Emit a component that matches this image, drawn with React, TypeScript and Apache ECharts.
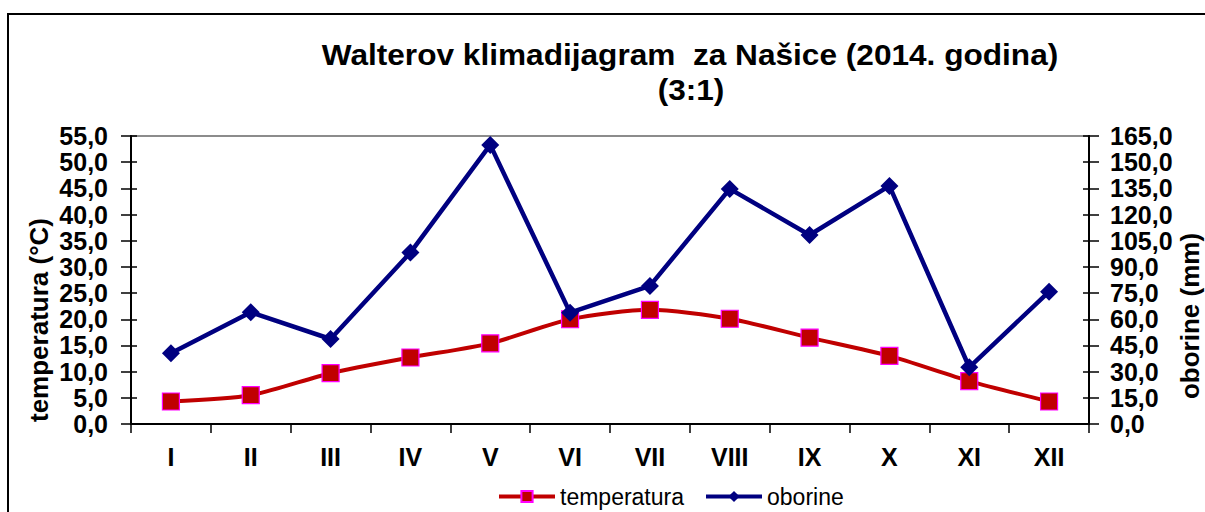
import React, { useEffect, useRef } from "react";
import * as echarts from "echarts";

const months = ["I", "II", "III", "IV", "V", "VI", "VII", "VIII", "IX", "X", "XI", "XII"];
const temperature = [4.3, 5.5, 9.7, 12.7, 15.4, 20.0, 21.8, 20.1, 16.5, 13.0, 8.2, 4.3];
const precipitation = [40.5, 64.0, 48.7, 98.2, 159.9, 63.8, 79.1, 134.7, 108.3, 136.4, 32.5, 75.8];
const titleLines = ["Walterov klimadijagram  za Našice (2014. godina)", "(3:1)"];
const seriesNames = ["temperatura", "oborine"];
const axisNames = ["temperatura (°C)", "oborine (mm)"];

const FONT = 'Arial, "Liberation Sans", sans-serif';
const fmt = (v: number) => v.toFixed(1).replace(".", ",");

export default function App() {
  const ref = useRef<HTMLDivElement>(null);
  useEffect(() => {
    if (!ref.current) return;
    const chart = echarts.init(ref.current, undefined, { renderer: "svg" });
    const labelStyle = { fontFamily: FONT, fontSize: 25, fontWeight: "bold" as const, color: "#000" };
    const baseY = (min: number, max: number, interval: number, position: "left" | "right") => ({
      type: "value" as const,
      position,
      min,
      max,
      interval,
      splitLine: { show: false },
    });
    chart.setOption({
      animation: false,
      backgroundColor: "#fff",
      grid: { left: 131, right: 116, top: 136, bottom: 88, show: true, borderColor: "#8c8c8c", borderWidth: 2 },
      legend: {
        left: 492,
        top: 480,
        itemWidth: 56,
        itemHeight: 14,
        itemGap: 20,
        textStyle: { fontFamily: FONT, fontSize: 23, color: "#000" },
        data: [
          { name: seriesNames[0], lineStyle: { width: 4 } },
          { name: seriesNames[1], lineStyle: { width: 4 } },
        ],
      },
      xAxis: {
        type: "category",
        data: months,
        boundaryGap: true,
        axisLine: { lineStyle: { color: "#000", width: 2 } },
        axisTick: { show: true, inside: false, length: 9, lineStyle: { color: "#000", width: 1.5 } },
        axisLabel: { ...labelStyle, margin: 20 },
      },
      yAxis: [
        {
          ...baseY(0, 55, 5, "left"),
          axisLine: { show: true, lineStyle: { color: "#000", width: 2 } },
          axisTick: { show: true, length: 10, lineStyle: { color: "#000", width: 1.5 } },
          axisLabel: { ...labelStyle, margin: 23, formatter: fmt, lineHeight: 20 },
        },
        {
          ...baseY(0, 165, 15, "right"),
          axisLine: { show: true, lineStyle: { color: "#000", width: 2 } },
          axisTick: { show: true, length: 10, lineStyle: { color: "#000", width: 1.5 } },
          axisLabel: { ...labelStyle, margin: 21, formatter: fmt, lineHeight: 20 },
        },
        {
          ...baseY(0, 55, 5, "left"),
          axisLine: { show: false },
          axisTick: { show: true, inside: true, length: 6, lineStyle: { color: "#000", width: 1.5 } },
          axisLabel: { show: false },
        },
        {
          ...baseY(0, 165, 15, "right"),
          axisLine: { show: false },
          axisTick: { show: true, inside: true, length: 6, lineStyle: { color: "#000", width: 1.5 } },
          axisLabel: { show: false },
        },
      ],
      graphic: [
        {
          type: "rect",
          shape: { x: 8, y: 14, width: 1230, height: 540 },
          style: { fill: "none", stroke: "#000", lineWidth: 2 },
          silent: true,
        },
        {
          type: "text",
          x: 690,
          y: 55,
          scaleX: 1.09,
          style: { text: titleLines[0], font: `bold 29px ${FONT}`, fill: "#000", textAlign: "center", textVerticalAlign: "middle" },
        },
        {
          type: "text",
          x: 691,
          y: 90,
          scaleX: 1.09,
          style: { text: titleLines[1], font: `bold 29px ${FONT}`, fill: "#000", textAlign: "center", textVerticalAlign: "middle" },
        },
        {
          type: "text",
          x: 39,
          y: 320,
          rotation: Math.PI / 2,
          style: { text: axisNames[0], font: `bold 26px ${FONT}`, fill: "#000", textAlign: "center", textVerticalAlign: "middle" },
        },
        {
          type: "text",
          x: 1190,
          y: 316,
          rotation: Math.PI / 2,
          style: { text: axisNames[1], font: `bold 26px ${FONT}`, fill: "#000", textAlign: "center", textVerticalAlign: "middle" },
        },
      ],
      series: [
        {
          name: seriesNames[0],
          type: "line",
          yAxisIndex: 0,
          data: temperature,
          smooth: 0.25,
          symbol: "rect",
          symbolSize: 17,
          lineStyle: { color: "#C00000", width: 4 },
          itemStyle: { color: "#C00000", borderColor: "#FF00FF", borderWidth: 1.2 },
          z: 2,
        },
        {
          name: seriesNames[1],
          type: "line",
          yAxisIndex: 1,
          data: precipitation,
          symbol: "diamond",
          symbolSize: 18,
          lineStyle: { color: "#000080", width: 4.5 },
          itemStyle: { color: "#000080" },
          z: 3,
        },
      ],
    });
    return () => chart.dispose();
  }, []);
  return <div ref={ref} style={{ position: "absolute", left: 0, top: 0, width: 1205, height: 512 }} />;
}
